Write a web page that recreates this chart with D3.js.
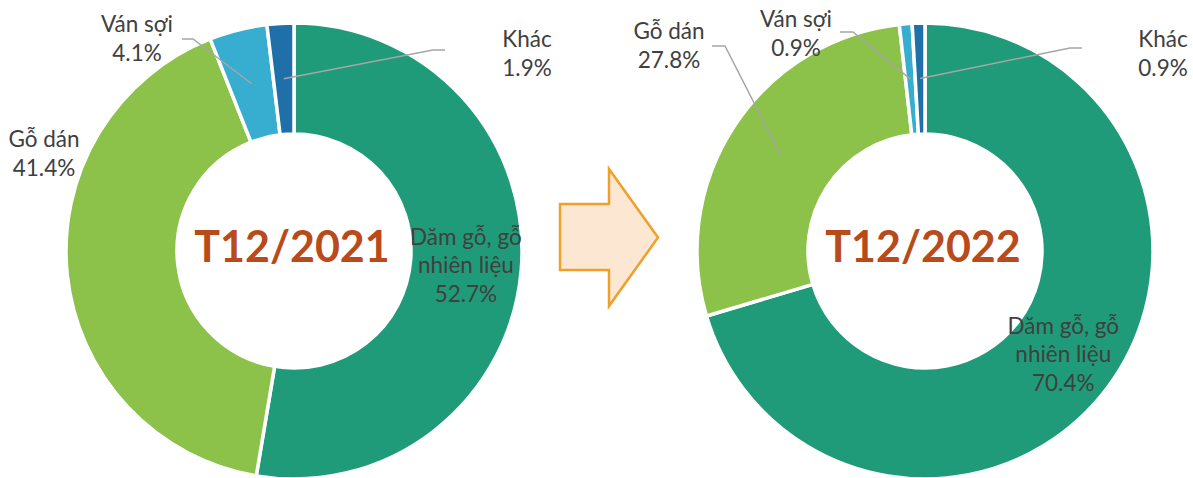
<!DOCTYPE html>
<html>
<head>
<meta charset="utf-8">
<script src="https://cdn.jsdelivr.net/npm/d3@7"></script>
<style>
  body { margin: 0; background: #fff; }
  text { font-family: Lato, "Open Sans", sans-serif; }
</style>
</head>
<body>
<div id="chart"></div>
<script>
// data
var categories = ["Dăm gỗ, gỗ nhiên liệu", "Gỗ dán", "Ván sợi", "Khác"];
var labelNames = [["Dăm gỗ, gỗ", "nhiên liệu"], ["Gỗ dán"], ["Ván sợi"], ["Khác"]];
var periods = ["T12/2021", "T12/2022"];
var shares2021 = [52.7, 41.4, 4.1, 1.9];
var shares2022 = [70.4, 27.8, 0.9, 0.9];

var colors = ["#1f9b79", "#8cc14a", "#37aed0", "#1f6fa8"];

var width = 1193, height = 478,
    outerR = 228, innerR = 117, lineH = 28.5;

// label placement per chart (null = label sits on the slice centroid)
var layouts = [
  { cx: 294, cy: 251, values: shares2021,
    labels: [null,
             { x: 44, y: 147 },
             { x: 137, y: 32, x0: 182, x1: 193, ly: 39 },
             { x: 527, y: 47, x0: 445, x1: 433, ly: 50 }] },
  { cx: 925, cy: 251, values: shares2022,
    labels: [null,
             { x: 669, y: 39, x0: 712, x1: 725, ly: 46 },
             { x: 796, y: 27, x0: 840, x1: 853, ly: 32 },
             { x: 1163, y: 47, x0: 1082, x1: 1070, ly: 48 }] }
];

var svg = d3.select("#chart").append("svg")
    .attr("width", width)
    .attr("height", height);

var color = d3.scaleOrdinal().domain(categories).range(colors);
var pie = d3.pie().sort(null).value(function(d) { return d.value; });
var arc = d3.arc().innerRadius(innerR).outerRadius(outerR);
var fmt = function(v) { return d3.format(".1f")(v) + "%"; };

layouts.forEach(function(L, ci) {
  var data = categories.map(function(c, i) { return { name: c, idx: i, value: L.values[i] }; });
  var arcs = pie(data);
  var g = svg.append("g").attr("transform", "translate(" + L.cx + "," + L.cy + ")");

  g.selectAll("path.slice")
    .data(arcs)
    .enter()
    .append("path")
    .attr("class", "slice")
    .attr("d", arc)
    .attr("fill", function(d) { return color(d.data.name); })
    .attr("stroke", "#fff")
    .attr("stroke-width", 3.5)
    .attr("stroke-linejoin", "round");

  // centre title
  g.append("text")
    .attr("x", -2)
    .attr("y", 11)
    .attr("text-anchor", "middle")
    .style("font-weight", "bold")
    .style("font-size", "43px")
    .style("fill", "#b94a19")
    .text(periods[ci]);

  arcs.forEach(function(a) {
    var lab = L.labels[a.data.idx];
    var c = arc.centroid(a);
    var lines = labelNames[a.data.idx].concat([fmt(a.data.value)]);
    var x, y0;
    if (lab === null) {
      x = L.cx + c[0];
      y0 = L.cy + c[1] - (lines.length - 1) * lineH / 2 + 8;
    } else {
      x = lab.x;
      y0 = lab.y;
      if (lab.x0 !== undefined) {
        svg.append("polyline")
          .attr("points", [[lab.x0, lab.ly], [lab.x1, lab.ly], [L.cx + c[0], L.cy + c[1]]].join(" "))
          .attr("fill", "none")
          .attr("stroke", "#a6a6a6")
          .attr("stroke-width", 1.5);
      }
    }
    var t = svg.append("text")
      .attr("text-anchor", "middle")
      .style("font-size", "22.5px")
      .style("fill", "#404040");
    lines.forEach(function(s, i) {
      t.append("tspan").attr("x", x).attr("y", y0 + i * lineH).text(s);
    });
  });
});

// arrow between the two donuts
var ax = d3.scaleLinear().domain([0, 1]).range([560, 658]);
var ay = d3.scaleLinear().domain([0, 1]).range([169, 306]);
var arrowPts = [[0, 0.255], [0.5, 0.255], [0.5, 0], [1, 0.5], [0.5, 1], [0.5, 0.737], [0, 0.737]];
svg.append("path")
  .attr("d", d3.line().x(function(d) { return ax(d[0]); }).y(function(d) { return ay(d[1]); })(arrowPts) + "Z")
  .attr("fill", "#fce8d2")
  .attr("stroke", "#f0a02a")
  .attr("stroke-width", 2.5)
  .attr("stroke-linejoin", "miter");
</script>
</body>
</html>
